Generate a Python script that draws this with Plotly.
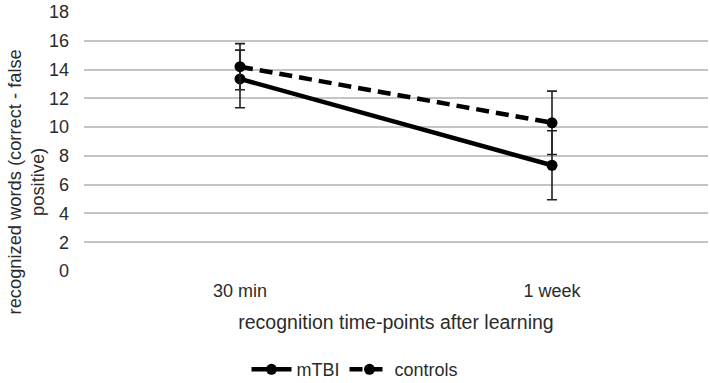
import plotly.graph_objects as go

categories = ["30 min", "1 week"]
mtbi = [13.35, 7.35]
mtbi_err = [2.0, 2.4]
controls = [14.2, 10.3]
controls_err = [1.6, 2.2]
y_ticks = [0, 2, 4, 6, 8, 10, 12, 14, 16, 18]
y_title = "recognized words (correct - false<br>positive)"
x_title = "recognition time-points after learning"

fig = go.Figure()
fig.add_trace(go.Scatter(
    x=categories, y=mtbi, name="mTBI", mode="lines+markers",
    line=dict(color="black", width=4.5),
    marker=dict(color="black", size=11),
    error_y=dict(type="data", array=mtbi_err, visible=True, color="#222222", thickness=1.6, width=5),
))
fig.add_trace(go.Scatter(
    x=categories, y=controls, name="controls", mode="lines+markers",
    line=dict(color="black", width=4.5, dash="13px,7px"),
    marker=dict(color="black", size=11),
    error_y=dict(type="data", array=controls_err, visible=True, color="#222222", thickness=1.6, width=5),
))

fig.add_annotation(
    text=y_title, textangle=-90, xref="paper", yref="paper",
    x=0, y=0.342, xanchor="center", yanchor="middle", xshift=-58,
    showarrow=False, font=dict(size=18.3, color="#2b2b2b"),
)

fig.update_layout(
    width=710, height=383,
    margin=dict(l=84, r=2, t=12, b=112),
    plot_bgcolor="white", paper_bgcolor="white",
    font=dict(family="Liberation Sans, Arial", color="#2b2b2b", size=18),
    showlegend=True,
    legend=dict(orientation="h", xref="container", x=0.5, xanchor="center",
                yref="container", y=0.035, yanchor="middle",
                font=dict(size=18, color="#2b2b2b"), itemwidth=40),
    xaxis=dict(
        type="category", range=[-0.5, 1.5], showgrid=False, showline=False, zeroline=False,
        tickfont=dict(size=18, color="#2b2b2b"), ticks="", ticklabelstandoff=7,
        title=dict(text=x_title, font=dict(size=19.5, color="#2b2b2b"), standoff=15),
    ),
    yaxis=dict(
        range=[0, 18], tickvals=y_ticks, showgrid=True, gridcolor="#c4c4c4", gridwidth=1.6,
        zeroline=False, showline=False, ticks="", ticklabelstandoff=14,
        tickfont=dict(size=18, color="#2b2b2b"),
    ),
)

fig.write_html("out.html")
